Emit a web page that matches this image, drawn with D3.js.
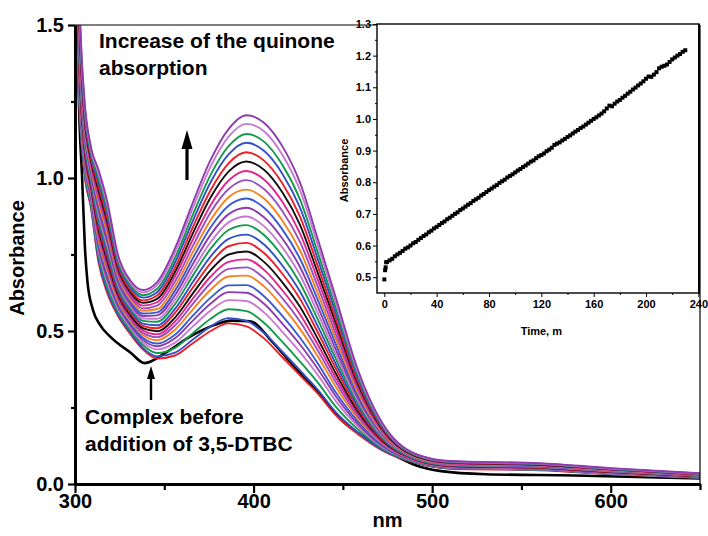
<!DOCTYPE html>
<html>
<head>
<meta charset="utf-8">
<script src="https://cdn.jsdelivr.net/npm/d3@7"></script>
<style>
  body { margin: 0; background: #fff; }
  svg text { font-family: "Liberation Sans", Arial, sans-serif; font-weight: bold; fill: #000; }
</style>
</head>
<body>
<svg id="chart" width="708" height="536"></svg>
<script>
// ---- UV-vis spectra recorded during 3,5-DTBC oxidation ----
const wavelengths = [300,302,305,309,313,318,324,331,338,346,356,366,376,386,396,406,416,426,436,446,458,472,490,510,560,600,650];

// one row per scan, earliest (lowest band) first
const spectra = [
  [2.200,1.300,1.030,0.900,0.730,0.625,0.550,0.490,0.440,0.410,0.420,0.460,0.500,0.525,0.515,0.475,0.415,0.355,0.295,0.225,0.165,0.110,0.070,0.050,0.045,0.032,0.020],
  [2.210,1.310,1.037,0.905,0.738,0.633,0.555,0.495,0.445,0.417,0.429,0.472,0.515,0.542,0.533,0.493,0.433,0.371,0.308,0.235,0.171,0.112,0.071,0.051,0.046,0.033,0.020],
  [2.229,1.329,1.048,0.914,0.752,0.647,0.564,0.503,0.454,0.428,0.445,0.493,0.540,0.571,0.565,0.526,0.465,0.400,0.331,0.253,0.181,0.117,0.072,0.052,0.047,0.033,0.021],
  [2.248,1.348,1.060,0.924,0.766,0.661,0.574,0.511,0.463,0.440,0.462,0.515,0.567,0.601,0.598,0.560,0.498,0.431,0.356,0.271,0.191,0.121,0.074,0.053,0.048,0.034,0.022],
  [2.264,1.364,1.070,0.932,0.778,0.673,0.582,0.518,0.471,0.450,0.476,0.534,0.590,0.627,0.625,0.588,0.525,0.456,0.376,0.287,0.199,0.124,0.075,0.054,0.049,0.035,0.022],
  [2.278,1.378,1.079,0.939,0.789,0.684,0.589,0.524,0.478,0.459,0.488,0.550,0.609,0.649,0.650,0.613,0.550,0.478,0.394,0.300,0.207,0.128,0.076,0.055,0.050,0.036,0.023],
  [2.296,1.396,1.090,0.948,0.802,0.697,0.598,0.532,0.487,0.470,0.504,0.571,0.635,0.678,0.681,0.645,0.581,0.507,0.417,0.318,0.217,0.132,0.077,0.056,0.051,0.037,0.024],
  [2.312,1.412,1.100,0.956,0.814,0.709,0.606,0.539,0.494,0.480,0.518,0.589,0.657,0.703,0.708,0.672,0.608,0.531,0.436,0.333,0.225,0.135,0.078,0.057,0.051,0.038,0.024],
  [2.327,1.427,1.109,0.963,0.825,0.720,0.613,0.546,0.502,0.489,0.531,0.606,0.678,0.726,0.734,0.699,0.634,0.555,0.455,0.347,0.233,0.139,0.080,0.058,0.052,0.038,0.025],
  [2.342,1.442,1.119,0.971,0.837,0.732,0.621,0.552,0.509,0.499,0.544,0.623,0.699,0.750,0.760,0.725,0.660,0.579,0.474,0.362,0.241,0.142,0.081,0.059,0.053,0.039,0.025],
  [2.358,1.458,1.129,0.979,0.849,0.744,0.629,0.559,0.517,0.509,0.559,0.642,0.722,0.777,0.788,0.754,0.688,0.605,0.495,0.378,0.250,0.146,0.082,0.060,0.054,0.040,0.026],
  [2.374,1.474,1.139,0.987,0.861,0.756,0.637,0.566,0.524,0.519,0.572,0.660,0.744,0.801,0.815,0.782,0.715,0.629,0.515,0.393,0.259,0.149,0.083,0.061,0.055,0.041,0.027],
  [2.392,1.492,1.150,0.996,0.874,0.769,0.646,0.574,0.533,0.530,0.588,0.681,0.769,0.830,0.846,0.813,0.746,0.657,0.537,0.410,0.268,0.153,0.084,0.062,0.056,0.042,0.027],
  [2.408,1.508,1.160,1.004,0.886,0.781,0.654,0.581,0.541,0.540,0.602,0.699,0.791,0.855,0.874,0.842,0.774,0.683,0.558,0.425,0.277,0.157,0.086,0.063,0.057,0.042,0.028],
  [2.425,1.525,1.171,1.012,0.899,0.794,0.662,0.588,0.549,0.551,0.617,0.719,0.815,0.882,0.903,0.871,0.803,0.709,0.579,0.441,0.286,0.161,0.087,0.064,0.058,0.043,0.028],
  [2.442,1.542,1.181,1.021,0.912,0.807,0.671,0.596,0.557,0.561,0.632,0.738,0.839,0.909,0.933,0.902,0.833,0.736,0.601,0.458,0.295,0.165,0.088,0.065,0.059,0.044,0.029],
  [2.459,1.559,1.192,1.030,0.924,0.819,0.680,0.603,0.566,0.572,0.647,0.758,0.863,0.937,0.962,0.932,0.862,0.763,0.622,0.475,0.304,0.168,0.089,0.066,0.060,0.045,0.030],
  [2.477,1.577,1.203,1.038,0.938,0.833,0.688,0.611,0.574,0.583,0.662,0.778,0.888,0.964,0.993,0.963,0.893,0.791,0.645,0.491,0.314,0.172,0.091,0.067,0.061,0.046,0.030],
  [2.494,1.594,1.214,1.047,0.951,0.846,0.697,0.619,0.583,0.594,0.678,0.799,0.912,0.992,1.023,0.994,0.923,0.819,0.667,0.508,0.323,0.176,0.092,0.068,0.062,0.047,0.031],
  [2.512,1.612,1.225,1.056,0.964,0.859,0.706,0.627,0.592,0.605,0.693,0.819,0.937,1.021,1.054,1.026,0.954,0.847,0.689,0.526,0.333,0.180,0.093,0.070,0.063,0.048,0.032],
  [2.530,1.630,1.236,1.065,0.977,0.872,0.715,0.634,0.600,0.616,0.708,0.839,0.961,1.048,1.084,1.056,0.984,0.874,0.711,0.542,0.342,0.184,0.095,0.071,0.064,0.049,0.032],
  [2.548,1.648,1.247,1.074,0.991,0.886,0.724,0.642,0.609,0.627,0.724,0.860,0.987,1.077,1.115,1.088,1.015,0.903,0.734,0.560,0.352,0.188,0.096,0.072,0.065,0.049,0.033],
  [2.565,1.665,1.258,1.082,1.004,0.899,0.732,0.650,0.617,0.638,0.739,0.880,1.011,1.104,1.144,1.118,1.044,0.930,0.756,0.576,0.361,0.192,0.097,0.073,0.066,0.050,0.034],
  [2.584,1.684,1.270,1.092,1.018,0.913,0.742,0.658,0.626,0.650,0.756,0.902,1.038,1.135,1.177,1.152,1.077,0.960,0.780,0.595,0.371,0.196,0.099,0.074,0.067,0.051,0.034],
  [2.600,1.700,1.280,1.100,1.030,0.925,0.750,0.665,0.634,0.660,0.770,0.920,1.060,1.160,1.205,1.180,1.105,0.985,0.800,0.610,0.380,0.200,0.100,0.075,0.068,0.052,0.035]
];

// colour cycle of the scans
const scanColors = ["#ec1f27","#3350c4","#14994c","#c77ad0","#8d3bad","#3a5ad0","#f5821f","#9a4fc0","#e2268d","#111111"];

// complex alone, before the substrate is added
const complexWavelengths = [300,302,304,305.5,307,310,314,320,331,339,351,364,376,388,398,410,422,436,450,464,480,490,505,530,580,650];
const complexSpectrum = [2.2,1.3,1.0,0.78,0.66,0.57,0.52,0.48,0.43,0.395,0.43,0.48,0.515,0.534,0.532,0.468,0.388,0.300,0.205,0.145,0.09,0.063,0.042,0.032,0.028,0.018];

const xTickValues = [300,400,500,600];
const xMinorTicks = [350,450,550,650];
const yTickValues = [0,0.5,1.0,1.5];
const yMinorTicks = [0.25,0.75,1.25];

// ---- kinetic trace (absorbance at the band maximum vs time) ----
const kineticEarlyTime = [0,0.6,1.0,1.4];
const kineticEarlyAbs = [0.493,0.522,0.531,0.547];
const kineticStart = 2, kineticStep = 2;
const kineticAbs = [
  0.548,0.553,0.558,0.566,0.572,0.577,0.583,0.590,0.594,0.600,
  0.607,0.611,0.618,0.624,0.630,0.635,0.642,0.647,0.654,0.659,
  0.665,0.671,0.676,0.683,0.688,0.694,0.700,0.705,0.712,0.717,
  0.723,0.729,0.734,0.741,0.746,0.751,0.758,0.763,0.769,0.775,
  0.780,0.786,0.791,0.798,0.803,0.808,0.815,0.820,0.825,0.831,
  0.837,0.842,0.848,0.853,0.859,0.865,0.869,0.876,0.882,0.886,
  0.891,0.898,0.903,0.909,0.918,0.922,0.926,0.932,0.937,0.943,
  0.948,0.954,0.960,0.965,0.971,0.976,0.982,0.988,0.994,1.000,
  1.005,1.011,1.017,1.024,1.033,1.042,1.040,1.048,1.055,1.060,
  1.067,1.073,1.080,1.086,1.093,1.099,1.106,1.112,1.119,1.127,
  1.134,1.133,1.140,1.148,1.160,1.165,1.168,1.172,1.180,1.188,
  1.194,1.200,1.205,1.212,1.217
];
const insetXTicks = [0,40,80,120,160,200,240];
const insetXMinor = [20,60,100,140,180,220];
const insetYTicks = [0.5,0.6,0.7,0.8,0.9,1.0,1.1,1.2,1.3];
const insetYMinor = [0.55,0.65,0.75,0.85,0.95,1.05,1.15,1.25];

// ================= main panel =================
const svg = d3.select("#chart");
const P = { left: 75, right: 700, top: 25, bottom: 484 };

const x = d3.scaleLinear().domain([300, 650]).range([P.left, P.right]);
const y = d3.scaleLinear().domain([0, 1.5]).range([P.bottom, P.top]);

svg.append("defs").append("clipPath").attr("id", "plotClip")
  .append("rect")
  .attr("x", P.left).attr("y", P.top)
  .attr("width", P.right - P.left).attr("height", P.bottom - P.top);

const plot = svg.append("g").attr("clip-path", "url(#plotClip)");

const complexLine = d3.line()
  .x((d, i) => x(complexWavelengths[i]))
  .y(d => y(d))
  .curve(d3.curveMonotoneX);

// the starting complex goes underneath the scans
plot.append("path")
  .attr("d", complexLine(complexSpectrum))
  .attr("fill", "none")
  .attr("stroke", "#000")
  .attr("stroke-width", 2.6);

const scanLine = d3.line()
  .x((d, i) => x(wavelengths[i]))
  .y(d => y(d))
  .curve(d3.curveMonotoneX);

spectra.forEach((s, i) => {
  plot.append("path")
    .attr("d", scanLine(s))
    .attr("fill", "none")
    .attr("stroke", scanColors[i % scanColors.length])
    .attr("stroke-width", 1.9)
    .attr("stroke-linejoin", "round");
});

// frame: thin top/right, heavy axes
svg.append("line").attr("x1", x(300)).attr("x2", x(650)).attr("y1", y(1.5)).attr("y2", y(1.5))
  .attr("stroke", "#000").attr("stroke-width", 1.2);
svg.append("line").attr("x1", x(650)).attr("x2", x(650)).attr("y1", y(1.5)).attr("y2", y(0))
  .attr("stroke", "#000").attr("stroke-width", 1.2);

function styleAxis(g, w) {
  g.select(".domain").attr("stroke", "#000").attr("stroke-width", w);
  g.selectAll(".tick line").attr("stroke", "#000").attr("stroke-width", 2.2);
}

const yAxis = svg.append("g").attr("transform", `translate(${P.left},0)`)
  .call(d3.axisLeft(y).tickValues(yTickValues).tickFormat(d3.format(".1f"))
    .tickSize(7).tickSizeOuter(0).tickPadding(4));
styleAxis(yAxis, 3);
yAxis.selectAll("text").attr("font-size", 20).attr("font-family", null);
svg.append("g").attr("transform", `translate(${P.left},0)`)
  .call(d3.axisLeft(y).tickValues(yMinorTicks).tickFormat("").tickSize(4).tickSizeOuter(0))
  .call(g => { g.select(".domain").remove(); g.selectAll(".tick line").attr("stroke", "#000").attr("stroke-width", 2.2); });

const xAxis = svg.append("g").attr("transform", `translate(0,${P.bottom})`)
  .call(d3.axisBottom(x).tickValues(xTickValues).tickFormat(d3.format("d"))
    .tickSize(9).tickSizeOuter(0).tickPadding(1));
styleAxis(xAxis, 3);
xAxis.selectAll("text").attr("font-size", 20).attr("font-family", null);
svg.append("g").attr("transform", `translate(0,${P.bottom})`)
  .call(d3.axisBottom(x).tickValues(xMinorTicks).tickFormat("").tickSize(6).tickSizeOuter(0))
  .call(g => { g.select(".domain").remove(); g.selectAll(".tick line").attr("stroke", "#000").attr("stroke-width", 2.2); });

svg.append("text").attr("x", (P.left + P.right) / 2).attr("y", 527)
  .attr("text-anchor", "middle").attr("font-size", 20).text("nm");
svg.append("text")
  .attr("transform", `translate(24,258) rotate(-90)`)
  .attr("text-anchor", "middle").attr("font-size", 20).text("Absorbance");

// annotations
const note1 = svg.append("text").attr("font-size", 21);
note1.append("tspan").attr("x", 99).attr("y", 48).text("Increase of the quinone");
note1.append("tspan").attr("x", 99).attr("y", 75).text("absorption");

const note2 = svg.append("text").attr("font-size", 21);
note2.append("tspan").attr("x", 85).attr("y", 424).text("Complex before");
note2.append("tspan").attr("x", 85).attr("y", 451).text("addition of 3,5-DTBC");

function arrow(cx, yTail, yTip, shaft, headW, headL) {
  svg.append("line").attr("x1", cx).attr("x2", cx).attr("y1", yTail).attr("y2", yTip + headL - 1)
    .attr("stroke", "#000").attr("stroke-width", shaft);
  svg.append("path")
    .attr("d", `M${cx},${yTip} L${cx - headW / 2},${yTip + headL} L${cx + headW / 2},${yTip + headL} Z`)
    .attr("fill", "#000");
}
arrow(187, 180, 130, 3.2, 11, 19);
arrow(151, 400, 366, 2.4, 8, 13);

// ================= inset: kinetic trace =================
const I = { left: 377, right: 699, top: 24, bottom: 293 };
const xi = d3.scaleLinear().domain([-5.6, 240.5]).range([I.left, I.right]);
const yi = d3.scaleLinear().domain([0.45, 1.3]).range([I.bottom, I.top]);

svg.append("rect").attr("x", I.left).attr("y", I.top)
  .attr("width", I.right - I.left).attr("height", I.bottom - I.top)
  .attr("fill", "#fff").attr("stroke", "#000").attr("stroke-width", 1.4);
svg.append("line").attr("x1", I.right).attr("x2", I.right).attr("y1", I.top).attr("y2", I.bottom)
  .attr("stroke", "#000").attr("stroke-width", 2);

const kineticPoints = kineticEarlyTime.map((t, i) => [t, kineticEarlyAbs[i]])
  .concat(kineticAbs.map((a, i) => [kineticStart + i * kineticStep, a]));

svg.append("g").selectAll("rect").data(kineticPoints).join("rect")
  .attr("x", d => xi(d[0]) - 2).attr("y", d => yi(d[1]) - 2)
  .attr("width", 4).attr("height", 4).attr("fill", "#000");

function styleInset(g) {
  g.select(".domain").remove();
  g.selectAll(".tick line").attr("stroke", "#000").attr("stroke-width", 1);
  g.selectAll("text").attr("font-size", 11).attr("font-family", null);
}
svg.append("g").attr("transform", `translate(${I.left},0)`)
  .call(d3.axisLeft(yi).tickValues(insetYTicks).tickFormat(d3.format(".1f")).tickSize(4).tickPadding(2))
  .call(styleInset);
svg.append("g").attr("transform", `translate(${I.left},0)`)
  .call(d3.axisLeft(yi).tickValues(insetYMinor).tickFormat("").tickSize(2))
  .call(styleInset);
svg.append("g").attr("transform", `translate(0,${I.bottom})`)
  .call(d3.axisBottom(xi).tickValues(insetXTicks).tickFormat(d3.format("d")).tickSize(4).tickPadding(3))
  .call(styleInset);
svg.append("g").attr("transform", `translate(0,${I.bottom})`)
  .call(d3.axisBottom(xi).tickValues(insetXMinor).tickFormat("").tickSize(2))
  .call(styleInset);

svg.append("text").attr("x", xi(120)).attr("y", 335)
  .attr("text-anchor", "middle").attr("font-size", 11).text("Time, m");
svg.append("text")
  .attr("transform", `translate(348,${(I.top + I.bottom) / 2 + 12}) rotate(-90)`)
  .attr("text-anchor", "middle").attr("font-size", 11).text("Absorbance");
</script>
</body>
</html>
